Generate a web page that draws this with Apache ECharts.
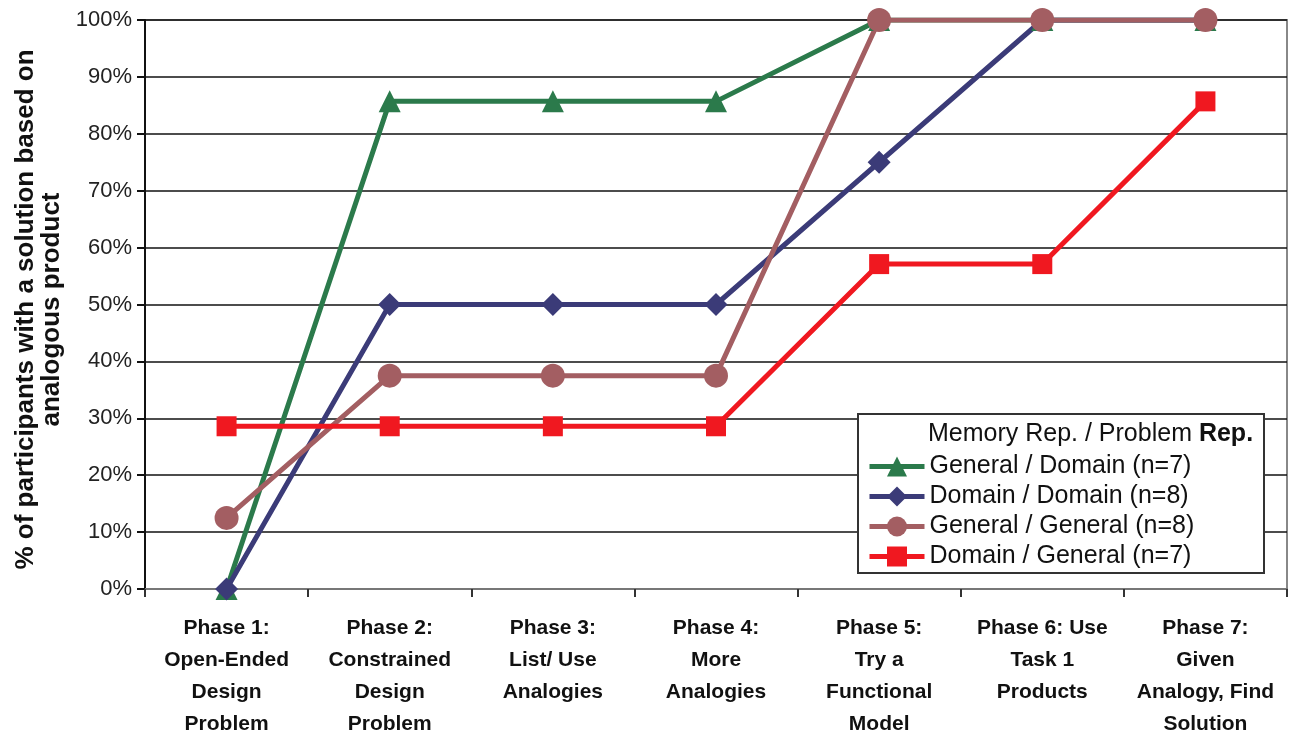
<!DOCTYPE html>
<html>
<head>
<meta charset="utf-8">
<script src="https://cdn.jsdelivr.net/npm/echarts@6/dist/echarts.min.js"></script>
<style>
  html, body { margin: 0; padding: 0; background: #fff; }
  #chart { width: 1295px; height: 741px; }
</style>
</head>
<body>
<div id="chart"></div>
<script>
// Phases of the design task (x categories)
const phases = [
  'Phase 1:\nOpen-Ended\nDesign\nProblem',
  'Phase 2:\nConstrained\nDesign\nProblem',
  'Phase 3:\nList/ Use\nAnalogies',
  'Phase 4:\nMore\nAnalogies',
  'Phase 5:\nTry a\nFunctional\nModel',
  'Phase 6: Use\nTask 1\nProducts',
  'Phase 7:\nGiven\nAnalogy, Find\nSolution'
];

// Share of participants with a solution based on an analogous product
const generalDomain = [0, 0.857, 0.857, 0.857, 1.0, 1.0, 1.0];
const domainDomain = [0, 0.5, 0.5, 0.5, 0.75, 1.0, 1.0];
const generalGeneral = [0.125, 0.375, 0.375, 0.375, 1.0, 1.0, 1.0];
const domainGeneral = [0.286, 0.286, 0.286, 0.286, 0.571, 0.571, 0.857];

const seriesNames = [
  'General / Domain (n=7)',
  'Domain / Domain (n=8)',
  'General / General (n=8)',
  'Domain / General (n=7)'
];

const yTicks = [0, 0.1, 0.2, 0.3, 0.4, 0.5, 0.6, 0.7, 0.8, 0.9, 1.0];

const FONT = 'Liberation Sans, Arial, Helvetica, sans-serif';

const chart = echarts.init(document.getElementById('chart'));

function lineSeries(name, data, color, symbol, size) {
  return {
    name: name,
    type: 'line',
    data: data,
    symbol: symbol,
    symbolSize: size,
    showSymbol: true,
    lineStyle: { color: color, width: 5 },
    itemStyle: { color: color, borderWidth: 0 },
    emphasis: { disabled: true },
    animation: false
  };
}

chart.setOption({
  backgroundColor: '#fff',
  animation: false,
  grid: {
    left: 145, right: 8, top: 20, bottom: 152,
    show: true,
    borderColor: '#888',
    borderWidth: 2,
    backgroundColor: 'transparent'
  },
  xAxis: {
    type: 'category',
    data: phases,
    boundaryGap: true,
    axisLine: { show: true, lineStyle: { color: '#777', width: 2 } },
    axisTick: { show: true, alignWithLabel: false, length: 8, lineStyle: { color: '#333', width: 2 } },
    axisLabel: {
      margin: 23,
      interval: 0,
      color: '#111',
      fontFamily: FONT,
      fontWeight: 'bold',
      fontSize: 21,
      lineHeight: 32,
      align: 'center'
    },
    splitLine: { show: false }
  },
  yAxis: {
    type: 'value',
    min: 0,
    max: 1,
    interval: 0.1,
    name: '% of participants with a solution based on\nanalogous product',
    nameLocation: 'middle',
    nameGap: 76,
    nameRotate: 90,
    nameTextStyle: {
      color: '#111',
      fontFamily: FONT,
      fontWeight: 'bold',
      fontSize: 26,
      lineHeight: 26,
      padding: [0, 10, 0, 0]
    },
    axisLine: { show: true, lineStyle: { color: '#111', width: 2 } },
    axisTick: { show: true, inside: false, length: 8, lineStyle: { color: '#111', width: 2 } },
    axisLabel: {
      margin: 13,
      color: '#222',
      fontFamily: FONT,
      fontSize: 22,
      formatter: function (v) {
        const t = yTicks.find(function (k) { return Math.abs(k - v) < 1e-9; });
        return Math.round((t === undefined ? v : t) * 100) + '%';
      }
    },
    splitLine: { show: true, lineStyle: { color: '#111', width: 1.5 } }
  },
  legend: {
    orient: 'vertical',
    left: 862,
    top: 449,
    itemWidth: 55,
    itemHeight: 25,
    itemGap: 5,
    data: seriesNames,
    lineStyle: { width: 5 },
    textStyle: { color: '#111', fontFamily: FONT, fontSize: 25, lineHeight: 25 },
    z: 10
  },
  graphic: [
    {
      type: 'rect',
      shape: { x: 858, y: 414, width: 406, height: 159 },
      style: { fill: '#fff', stroke: '#333', lineWidth: 2 },
      z: 5
    },
    {
      type: 'text',
      x: 928,
      y: 434,
      style: {
        text: '{n|Memory Rep. / Problem }{b|Rep.}',
        verticalAlign: 'middle',
        rich: {
          n: { fontFamily: FONT, fontSize: 25, fill: '#111' },
          b: { fontFamily: FONT, fontSize: 25, fontWeight: 'bold', fill: '#111' }
        }
      },
      z: 11
    }
  ],
  series: [
    lineSeries(seriesNames[0], generalDomain, '#2b7a4b', 'triangle', 22),
    lineSeries(seriesNames[1], domainDomain, '#3b3b78', 'diamond', 23),
    lineSeries(seriesNames[2], generalGeneral, '#a35e62', 'circle', 24),
    lineSeries(seriesNames[3], domainGeneral, '#f01820', 'rect', 20)
  ]
});
</script>
</body>
</html>
